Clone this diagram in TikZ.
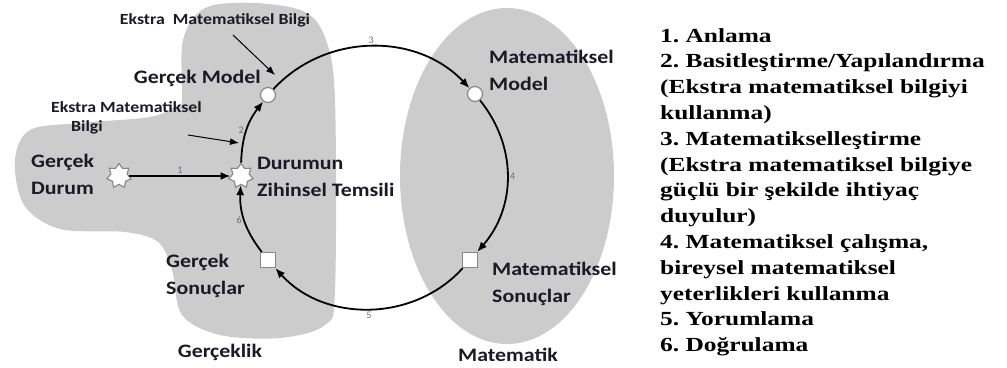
\documentclass[tikz,border=0pt]{standalone}
\usepackage{fontspec}
\setmainfont{Carlito}
\newfontfamily\labelfont[FakeStretch=1.15]{Carlito}
\newfontfamily\legendfont{Liberation Serif}
\usetikzlibrary{shapes.geometric,arrows.meta}
\definecolor{blobgray}{RGB}{204,204,204}
\definecolor{ink}{RGB}{25,25,40}
\definecolor{numgray}{RGB}{110,105,135}
\definecolor{edgegray}{RGB}{135,135,135}
\newcommand{\legstretch}[1]{\scalebox{1.27}[1]{#1}}
\begin{document}
\frenchspacing
\begin{tikzpicture}[x=1pt,y=1pt,
  lbl/.style={font=\labelfont\bfseries\fontsize{19}{27}\selectfont, text=ink, inner sep=0pt, align=left},
  small/.style={font=\labelfont\bfseries\fontsize{15.5}{19}\selectfont, text=ink, inner sep=0pt, align=left},
  num/.style={font=\fontsize{10}{12}\selectfont, text=numgray, inner sep=2pt},
  cyc/.style={line width=1.8pt, -{Latex[length=10pt,width=8pt]}},
  thinarr/.style={line width=1pt, -{Latex[length=9pt,width=7pt]}},
  rnd/.style={circle, draw=edgegray, fill=white, line width=1.2pt, minimum size=15pt, inner sep=0pt},
  sq/.style={rectangle, draw=edgegray, fill=white, line width=1.2pt, minimum size=15pt, inner sep=0pt},
  st/.style={star, star points=7, star point ratio=1.5, draw=edgegray, fill=white, line width=1.1pt, minimum size=25pt, inner sep=0pt},
  legend/.style={font=\legendfont\bfseries\fontsize{20}{25.8}\selectfont, text=black, inner sep=0pt, anchor=base west}
]
\useasboundingbox (0,0) rectangle (1007,-367);
% regions
\fill[blobgray] plot[smooth cycle, tension=0.55] coordinates {
  (182,-100) (183,-40) (205,-8) (255,-3) (305,-12) (326,-40) (335,-100)
  (335,-290) (325,-325) (280,-338) (220,-335) (182,-315) (172,-270)
  (158,-242) (125,-232) (60,-229) (24,-205) (15,-160) (30,-130) (80,-123)
  (150,-117) (176,-106)};
\fill[blobgray] (507,-176) ellipse [x radius=107, y radius=168];
% nodes
\node[st] (gd) at (119,-176) {};
\node[st] (ds) at (241,-176) {};
\node[rnd] (gm) at (268,-95) {};
\node[rnd] (mm) at (475,-94) {};
\node[sq] (ms) at (470,-260) {};
\node[sq] (gs) at (268,-260) {};
% cycle
\draw[cyc] (gd) -- node[num, above]{1} (ds);
\draw[cyc] (ds) to[bend left=18] node[num, left]{2} (gm);
\draw[cyc] (gm) to[bend left=47] node[num, above]{3} (mm);
\draw[cyc] (mm) to[bend left=40] node[num, right]{4} (ms);
\draw[cyc] (ms) to[bend left=48] node[num, below]{5} (gs);
\draw[cyc] (gs) to[bend left=20] node[num, left]{6} (ds);
% labels
\node[lbl, anchor=east] (tgm) at (261,-78) {Gerçek Model};
\node[lbl, anchor=west] (tgd) at (31,-174) {Gerçek\\Durum};
\node[lbl, anchor=west] (tds) at (257,-177) {Durumun\\Zihinsel Temsili};
\node[lbl, anchor=west] (tgs) at (166,-276) {Gerçek\\Sonuçlar};
\node[lbl] (tgk) at (220,-352) {Gerçeklik};
\node[lbl, anchor=west] (tmm) at (489,-70) {Matematiksel\\Model};
\node[lbl, anchor=west] (tms) at (492,-284) {Matematiksel\\Sonuçlar};
\node[lbl] (tmk) at (508,-355) {Matematik};
% extra knowledge
\node[small] (e1) at (215,-20) {Ekstra\ \ Matematiksel Bilgi};
\coordinate (e1s) at (233,-35);
\coordinate (e1t) at (275,-75);
\draw[thinarr] (e1s) -- (e1t);
\node[small, anchor=west] (e2) at (51,-117.5) {Ekstra Matematiksel\\\hspace*{20pt}Bilgi};
\coordinate (e2s) at (188,-135);
\coordinate (e2t) at (239,-143);
\draw[thinarr] (e2s) -- (e2t);
% legend
\foreach \t [count=\i] in {{1. Anlama},
{2. Basitleştirme/Yapılandırma},
{(Ekstra matematiksel bilgiyi},
{kullanma)},
{3. Matematikselleştirme},
{(Ekstra matematiksel bilgiye},
{güçlü bir şekilde ihtiyaç},
{duyulur)},
{4. Matematiksel çalışma,},
{bireysel matematiksel},
{yeterlikleri kullanma},
{5. Yorumlama},
{6. Doğrulama}}
  \node[legend] (leg\i) at (660,{-42-25.8*(\i-1)}) {\legstretch{\t}};
\end{tikzpicture}
\end{document}
